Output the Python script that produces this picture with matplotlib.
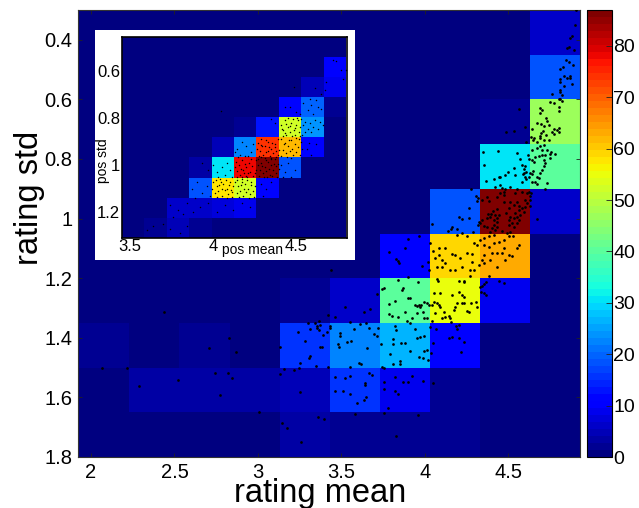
import numpy as np
import matplotlib
matplotlib.use("Agg")
import matplotlib.pyplot as plt

plt.rcParams['font.family'] = ['Liberation Sans', 'DejaVu Sans']

# 2d histogram counts, first row is the top row of the picture
rating_counts = [
    [0, 0, 0, 0, 0, 0, 0, 0, 0, 6],
    [0, 0, 0, 0, 0, 0, 0, 0, 0, 18],
    [0, 0, 0, 0, 0, 0, 0, 0, 2, 47],
    [0, 0, 0, 0, 0, 0, 0, 0, 31, 40],
    [0, 0, 0, 0, 0, 0, 0, 18, 87, 6],
    [0, 0, 0, 0, 0, 1, 10, 59, 63, 0],
    [0, 0, 0, 0, 2, 6, 40, 55, 9, 0],
    [2, 1, 2, 1, 16, 22, 26, 10, 0, 0],
    [1, 3, 3, 3, 5, 16, 9, 2, 0, 0],
    [1, 1, 1, 1, 3, 2, 2, 2, 0, 0],
]
pos_counts = [
    [0, 0, 0, 0, 0, 0, 0, 0, 0, 0],
    [0, 0, 0, 0, 0, 0, 0, 0, 0, 10],
    [0, 0, 0, 0, 0, 0, 0, 1, 5, 9],
    [0, 0, 0, 0, 0, 0, 0, 11, 20, 2],
    [0, 0, 0, 0, 0, 2, 13, 53, 24, 0],
    [0, 0, 0, 0, 5, 22, 74, 62, 10, 0],
    [0, 0, 0, 3, 30, 78, 87, 18, 0, 0],
    [0, 0, 0, 18, 58, 53, 12, 0, 0, 0],
    [0, 0, 6, 6, 7, 9, 0, 0, 0, 0],
    [0, 2, 5, 2, 0, 0, 0, 0, 0, 0],
]

rating_points = [
    (4.909,.300),(4.903,.350),(4.883,.386),(4.873,.395),(4.867,.423),(4.853,.426),(4.893,.434),(4.847,.467),
    (4.867,.475),(4.887,.484),(4.829,.490),(4.813,.499),(4.873,.520),(4.837,.523),(4.853,.527),(4.873,.529),
    (4.809,.531),(4.809,.542),(4.883,.549),(4.833,.555),(4.813,.568),(4.809,.576),(4.765,.583),(4.823,.585),
    (4.803,.598),(4.813,.599),(4.753,.609),(4.777,.611),(4.823,.607),(4.803,.624),(4.693,.630),(4.701,.637),
    (4.689,.644),(4.803,.638),(4.727,.663),(4.733,.674),(4.699,.682),(4.673,.678),(4.743,.685),(4.717,.689),
    (4.803,.695),(4.793,.703),(4.773,.700),(4.709,.705),(4.699,.714),(4.763,.711),(4.693,.723),(4.689,.731),
    (4.803,.708),(4.643,.700),(4.639,.725),(4.649,.736),(4.673,.742),(4.713,.736),(4.743,.736),(4.773,.716),
    (4.729,.719),(4.653,.730),(4.567,.632),(4.599,.692),(4.535,.706),(4.485,.711),(4.609,.742),
    (4.713,.753),(4.693,.758),(4.673,.764),(4.703,.770),(4.733,.770),(4.757,.775),(4.783,.782),(4.753,.783),
    (4.723,.786),(4.703,.786),(4.683,.790),(4.663,.792),(4.643,.803),(4.653,.809),(4.623,.801),(4.713,.803),
    (4.723,.814),(4.753,.798),(4.717,.823),(4.703,.837),(4.693,.846),(4.673,.859),(4.683,.865),(4.659,.876),
    (4.733,.879),(4.673,.884),(4.723,.901),(4.647,.839),(4.643,.850),
    (4.347,.778),(4.437,.772),(4.553,.779),(4.357,.819),(4.573,.801),(4.583,.820),(4.603,.822),(4.593,.834),
    (4.543,.853),(4.499,.844),(4.533,.831),(4.483,.853),(4.453,.862),(4.593,.846),(4.609,.842),(4.589,.850),
    (4.599,.862),(4.609,.867),(4.583,.876),(4.633,.848),(4.369,.874),(4.413,.867),(4.443,.860),(4.449,.887),
    (4.513,.895),(4.553,.899),(4.423,.893),(4.643,.876),(4.627,.862),(4.617,.786),(4.643,.770),
    (4.277,.899),(4.309,.924),(4.317,.932),(4.313,.940),(4.267,.963),(4.203,.994),(4.223,1.001),(4.267,.998),
    (4.043,1.017),(4.163,1.029),(4.159,1.036),(4.137,1.040),(4.193,1.036),(4.323,1.012),(4.319,1.021),
    (4.287,1.046),(4.223,1.047),
    (4.463,.898),(4.483,.902),(4.473,.910),(4.453,.913),(4.433,.926),(4.473,.921),(4.543,.913),(4.583,.910),
    (4.623,.910),(4.637,.915),(4.633,.924),(4.343,.937),(4.373,.926),(4.383,.941),(4.473,.943),(4.513,.943),
    (4.553,.943),(4.603,.938),(4.613,.949),(4.633,.938),(4.629,.957),(4.599,.960),(4.563,.958),(4.533,.954),
    (4.503,.966),(4.433,.969),(4.409,.974),(4.377,.983),(4.397,.983),(4.423,.988),(4.443,.988),(4.433,.999),
    (4.417,1.005),(4.393,.994),(4.373,.999),(4.563,.971),(4.593,.977),(4.543,.982),(4.513,.993),(4.503,1.005),
    (4.533,.999),(4.553,.993),(4.573,.988),(4.523,1.016),(4.553,1.016),(4.503,1.021),(4.533,1.027),(4.433,1.011),
    (4.413,1.022),(4.403,1.033),(4.373,1.027),(4.353,1.025),(4.333,1.016),(4.343,1.005),(4.433,1.027),(4.423,1.038),
    (4.393,1.046),(4.463,1.040),(4.493,1.049),(4.513,1.044),(4.529,1.058),(4.673,1.001),(4.563,1.005),(4.583,.965),
    (4.487,.982),(4.613,.915),
    (3.967,1.060),(3.897,1.067),(3.879,1.100),(4.193,1.055),(4.253,1.060),(4.293,1.083),(4.313,1.088),(4.333,1.072),
    (4.033,1.083),(4.083,1.100),(4.123,1.100),(4.353,1.066),(4.383,1.060),(4.413,1.055),(4.443,1.077),(4.473,1.072),
    (4.503,1.058),(4.353,1.088),(4.383,1.094),(4.413,1.083),(4.473,1.100),(4.563,1.088),(4.553,1.100),
    (4.049,1.108),(4.083,1.122),(4.063,1.133),(4.103,1.139),(4.123,1.150),(4.163,1.118),(4.183,1.122),(4.213,1.133),
    (4.253,1.116),(4.283,1.118),(4.223,1.161),(4.183,1.172),(4.153,1.172),(4.273,1.172),(4.293,1.174),(4.103,1.161),
    (4.283,1.144),(4.073,1.161),(4.273,1.192),(4.323,1.155),(4.343,1.139),(4.353,1.122),(4.403,1.116),(4.433,1.114),
    (4.463,1.114),(4.503,1.122),(4.523,1.125),(4.483,1.139),(4.433,1.161),(4.353,1.150),(4.393,1.139),(4.383,1.192),
    (3.783,1.113),(3.829,1.135),(3.839,1.141),(3.843,1.148),(3.983,1.158),(4.019,1.146),(4.023,1.172),(3.899,1.197),
    (3.439,1.174),
    (3.837,1.206),(3.957,1.213),(3.743,1.236),(3.757,1.234),(3.869,1.234),(3.863,1.239),(3.823,1.276),(3.783,1.286),
    (3.897,1.267),(3.909,1.267),(3.939,1.290),(3.953,1.293),(3.963,1.290),(3.979,1.290),(3.997,1.279),(4.013,1.282),
    (4.023,1.290),(3.883,1.313),(3.787,1.320),(3.803,1.326),(3.839,1.331),(3.953,1.318),(3.989,1.314),(3.997,1.332),
    (4.013,1.335),(3.923,1.335),(3.893,1.344),(3.909,1.351),(3.973,1.295),
    (4.073,1.204),(4.077,1.211),(4.203,1.208),(4.233,1.209),(4.237,1.214),(4.053,1.248),(4.093,1.251),(4.203,1.247),
    (4.223,1.256),(4.233,1.262),(4.163,1.256),(4.053,1.279),(4.073,1.282),(4.083,1.290),(4.043,1.290),(4.093,1.298),
    (4.183,1.298),(4.223,1.282),(4.233,1.284),(4.277,1.284),(4.309,1.281),(4.313,1.298),(4.253,1.309),(4.267,1.314),
    (4.193,1.284),(4.063,1.318),(4.113,1.314),(4.143,1.327),(4.153,1.335),(4.103,1.335),(4.043,1.344),(4.159,1.346),
    (4.123,1.329),(4.177,1.307),
    (4.333,1.228),(4.353,1.220),(4.367,1.214),(4.343,1.225),(4.447,1.208),(4.473,1.215),(4.353,1.251),(4.367,1.256),
    (4.337,1.245),(3.523,1.295),(3.633,1.312),(3.673,1.304),(3.713,1.253),(3.423,1.323),(3.459,1.329),
    (3.553,1.346),(3.613,1.354),(3.647,1.349),(3.429,1.360),(3.429,1.368),(3.493,1.385),(3.493,1.394),(3.573,1.370),
    (3.663,1.368),(3.717,1.368),(3.533,1.413),(3.559,1.411),(3.477,1.422),(3.487,1.430),(3.693,1.387),(3.713,1.394),
    (3.653,1.435),(3.603,1.484),(3.619,1.488),(3.423,1.497),(3.553,1.499),(3.373,1.357),(3.393,1.391),(3.413,1.379),
    (3.383,1.432),
    (3.823,1.360),(3.829,1.374),(3.943,1.372),(3.807,1.405),(3.807,1.421),(3.857,1.419),(3.883,1.419),(3.953,1.402),
    (3.969,1.398),(3.997,1.394),(3.913,1.444),(3.997,1.443),(4.013,1.441),(3.793,1.454),(3.853,1.477),(3.849,1.488),
    (3.809,1.489),(3.967,1.466),(3.989,1.469),(4.017,1.475),(3.743,1.497),(3.757,1.500),(3.739,1.421),(4.033,1.363),
    (4.067,1.370),(4.189,1.360),(4.207,1.357),(4.193,1.372),(4.143,1.401),(4.163,1.398),(4.203,1.402),(4.233,1.415),
    (4.049,1.416),(4.217,1.449),(4.037,1.452),
    (3.663,1.518),(3.683,1.525),(3.463,1.532),(3.523,1.535),(3.549,1.528),(3.639,1.550),(3.643,1.559),(3.459,1.579),
    (3.507,1.579),(3.549,1.588),(3.647,1.598),(3.633,1.610),(3.593,1.618),(3.583,1.656),(3.757,1.653),
    (3.753,1.547),(3.823,1.531),(3.867,1.547),(3.897,1.547),(3.923,1.528),(3.987,1.544),(3.753,1.572),(3.823,1.578),
    (3.837,1.587),(3.777,1.634),(4.049,1.550),(3.959,1.658),(3.397,1.674),(3.827,1.730),
    (2.438,1.314),(2.824,1.402),(2.704,1.435),(2.868,1.449),(2.068,1.503),(2.216,1.500),(2.288,1.561),(2.524,1.540),
    (2.744,1.517),(2.818,1.519),(2.844,1.534),(2.772,1.591),(3.004,1.650),(3.134,1.430),(3.240,1.379),(3.300,1.349),
    (3.364,1.342),(3.354,1.368),(3.368,1.374),(3.370,1.430),(3.314,1.461),(3.304,1.467),(3.250,1.485),(3.350,1.494),
    (3.244,1.500),(3.216,1.508),(3.156,1.505),(3.134,1.522),(3.254,1.581),(3.358,1.665),(3.144,1.686),(3.174,1.704),
    (3.260,1.749),(3.34,1.352),(3.31,1.372),(3.352,1.362),(3.28,1.41),
]

pos_points = [
    (4.72,.554),(4.74,.556),(4.77,.596),(4.796,.596),(4.78,.632),(4.68,.646),(4.67,.681),(4.65,.696),(4.61,.674),
    (4.484,.670),(4.046,.769),(4.58,.717),(4.62,.724),(4.54,.738),(4.59,.745),(4.63,.752),(4.57,.767),(4.46,.752),
    (4.50,.774),(4.43,.752),(4.52,.781),(4.65,.760),(4.60,.781),(4.55,.816),(4.58,.823),(4.61,.809),(4.64,.816),
    (4.57,.845),(4.60,.838),(4.55,.859),(4.63,.845),(4.54,.831),(4.59,.859),(4.66,.831),
    (4.41,.83),(4.42,.85),(4.43,.81),(4.44,.87),(4.45,.80),(4.452,.84),(4.46,.86),(4.47,.82),(4.48,.803),(4.483,.85),
    (4.49,.87),(4.50,.83),(4.51,.81),(4.513,.86),(4.52,.84),(4.53,.805),(4.534,.87),(4.42,.878),(4.462,.832),
    (4.49,.842),(4.44,.826),(4.472,.875),(4.503,.80),(4.523,.878),(4.43,.865),(4.415,.845),(4.37,.82),(4.35,.805),
    (4.41,.89),(4.43,.905),(4.45,.92),(4.47,.895),(4.49,.91),(4.51,.925),(4.53,.90),(4.42,.935),(4.44,.95),(4.46,.94),
    (4.48,.955),(4.50,.945),(4.52,.955),(4.405,.96),(4.425,.91),(4.455,.895),(4.475,.93),(4.495,.885),(4.515,.89),
    (4.535,.93),(4.445,.965),(4.465,.97),(4.565,.93),(4.575,.905),(4.59,.955),(4.62,.91),
    (4.27,.905),(4.29,.89),(4.31,.92),(4.33,.90),(4.35,.93),(4.37,.91),(4.39,.89),(4.28,.94),(4.30,.955),(4.32,.945),
    (4.34,.96),(4.36,.95),(4.38,.965),(4.395,.935),(4.275,.96),(4.295,.92),(4.315,.895),(4.335,.925),(4.355,.905),
    (4.375,.94),(4.29,.965),(4.31,.97),(4.33,.94),(4.35,.968),(4.37,.925),(4.39,.955),(4.265,.93),(4.285,.915),
    (4.14,.93),(4.17,.90),(4.20,.92),(4.23,.945),(4.19,.96),(4.16,.955),(4.24,.91),(4.15,.965),(4.21,.96),(4.13,.945),
    (4.27,.975),(4.29,.99),(4.31,1.01),(4.33,.985),(4.35,1.00),(4.37,.975),(4.39,.995),(4.28,1.02),(4.30,1.035),
    (4.32,1.025),(4.34,1.04),(4.36,1.02),(4.38,1.035),(4.395,1.015),(4.275,1.045),(4.295,1.005),(4.315,.98),(4.335,1.015),
    (4.355,1.045),(4.375,1.005),(4.385,1.05),(4.305,1.05),(4.27,1.00),(4.325,1.052),(4.345,.975),(4.365,.995),
    (4.135,.985),(4.155,1.00),(4.175,.98),(4.195,1.01),(4.215,.99),(4.235,1.005),(4.255,.98),(4.14,1.025),(4.16,1.04),
    (4.18,1.02),(4.20,1.045),(4.22,1.03),(4.24,1.045),(4.255,1.02),(4.145,1.05),(4.165,1.015),(4.19,.995),(4.21,1.035),
    (4.23,.975),(4.25,1.035),(4.17,1.05),(4.13,1.01),(4.205,1.052),(4.185,1.035),
    (4.00,1.00),(4.02,1.03),(4.05,1.01),(4.08,.99),(4.10,1.02),(4.07,1.04),(4.11,1.05),(4.03,1.05),(3.97,1.02),(3.93,.99),
    (4.41,1.00),(4.45,.99),(4.49,1.02),(4.43,1.03),(4.47,1.05),(4.42,1.05),
    (4.00,1.07),(4.02,1.09),(4.04,1.06),(4.06,1.08),(4.08,1.10),(4.10,1.07),(4.12,1.09),(4.01,1.12),(4.03,1.11),(4.05,1.13),
    (4.07,1.105),(4.09,1.125),(4.11,1.115),(4.015,1.065),(4.035,1.085),(4.055,1.10),(4.075,1.065),(4.095,1.085),
    (4.115,1.135),(4.025,1.135),(4.045,1.07),(4.085,1.14),(4.105,1.105),(3.995,1.10),
    (4.13,1.07),(4.15,1.09),(4.17,1.06),(4.19,1.08),(4.21,1.10),(4.23,1.07),(4.25,1.09),(4.14,1.12),(4.16,1.11),(4.18,1.13),
    (4.20,1.115),(4.22,1.125),(4.24,1.11),(4.145,1.065),(4.165,1.085),(4.185,1.10),(4.205,1.065),(4.225,1.085),
    (4.245,1.135),(4.155,1.135),(4.175,1.07),(4.215,1.14),(4.29,1.08),(4.32,1.10),(4.35,1.07),(4.30,1.13),
    (3.87,1.10),(3.90,1.07),(3.93,1.12),(3.96,1.09),(3.98,1.13),(3.89,1.14),
    (3.74,1.17),(3.79,1.19),(3.84,1.16),(3.88,1.20),(3.92,1.18),(3.97,1.16),(4.02,1.20),(4.07,1.17),(4.12,1.19),(4.17,1.16),
    (4.22,1.18),(3.76,1.22),(3.82,1.21),(3.70,1.25),(3.64,1.26),(3.74,1.27),(3.84,1.26),(3.60,1.275),(3.80,1.29),
]

rating_xticks = [2, 2.5, 3, 3.5, 4, 4.5]
rating_xlabels = ['2', '2.5', '3', '3.5', '4', '4.5']
rating_yticks = [0.4, 0.6, 0.8, 1.0, 1.2, 1.4, 1.6, 1.8]
rating_ylabels = ['0.4', '0.6', '0.8', '1', '1.2', '1.4', '1.6', '1.8']
pos_xticks = [3.5, 4, 4.5]
pos_xlabels = ['3.5', '4', '4.5']
pos_yticks = [0.6, 0.8, 1.0, 1.2]
pos_ylabels = ['0.6', '0.8', '1', '1.2']
cbar_ticks = [0, 10, 20, 30, 40, 50, 60, 70, 80]

W, H = 639.0, 508.0
cmap = plt.get_cmap('jet', 64)
VMAX = 87


def box(left, top, right, bottom):
    # pixel box of the reference to figure fractions
    return [left/W, 1-bottom/H, (right-left)/W, (bottom-top)/H]


fig = plt.figure(figsize=(6.39, 5.08), dpi=100)

ax = fig.add_axes(box(78, 10, 580, 457))
mesh = ax.pcolormesh(np.linspace(1.93, 4.93, 11), np.linspace(0.3, 1.8, 11), np.array(rating_counts),
                     cmap=cmap, vmin=0, vmax=VMAX)
pts = np.array(rating_points)
ax.scatter(pts[:, 0], pts[:, 1], s=3.8, c='k', linewidths=0, zorder=3)
ax.set_xlim(1.922, 4.93)
ax.set_ylim(1.8, 0.3)
ax.set_xticks(rating_xticks)
ax.set_xticklabels(rating_xlabels)
ax.set_yticks(rating_yticks)
ax.set_yticklabels(rating_ylabels)
ax.tick_params(direction='in', length=3, width=0.6, top=True, right=True, labelsize=14.5, pad=4, color='#222222')
ax.set_xlabel('rating mean', fontsize=23.5)
ax.xaxis.set_label_coords(0.482, -0.047)
ax.set_ylabel('rating std', fontsize=23.5)
ax.yaxis.set_label_coords(-0.066, 0.58)
for s in ax.spines.values():
    s.set_linewidth(0.8)
    s.set_color('#333333')

# white card behind the inset
card = fig.add_axes(box(95, 30, 355, 260), zorder=2)
card.set_facecolor('white')
card.set_xticks([])
card.set_yticks([])
for s in card.spines.values():
    s.set_visible(False)

inset = fig.add_axes(box(121.7, 36.7, 347, 238), zorder=3)
inset.pcolormesh(np.linspace(3.45, 4.80, 11), np.linspace(0.454, 1.31, 11), np.array(pos_counts),
                 cmap=cmap, vmin=0, vmax=VMAX)
pts2 = np.array(pos_points)
inset.scatter(pts2[:, 0], pts2[:, 1], s=1.1, c='k', linewidths=0, zorder=3)
inset.set_xlim(3.45, 4.804)
inset.set_ylim(1.31, 0.454)
inset.set_xticks(pos_xticks)
inset.set_xticklabels(pos_xlabels)
inset.set_yticks(pos_yticks)
inset.set_yticklabels(pos_ylabels)
inset.tick_params(direction='in', length=0, labelsize=12, pad=1)
inset.set_xlabel('pos mean', fontsize=10)
inset.xaxis.set_label_coords(0.581, -0.025)
inset.set_ylabel('pos std', fontsize=10)
inset.yaxis.set_label_coords(-0.05, 0.383)
for s in inset.spines.values():
    s.set_linewidth(1.2)

cax = fig.add_axes(box(587, 10, 612, 457))
cb = fig.colorbar(mesh, cax=cax, ticks=cbar_ticks)
cb.ax.tick_params(direction='in', length=4, width=0.6, labelsize=14, pad=1, color='#222222')
cb.outline.set_linewidth(0.8)

fig.savefig('out.png', dpi=100)
